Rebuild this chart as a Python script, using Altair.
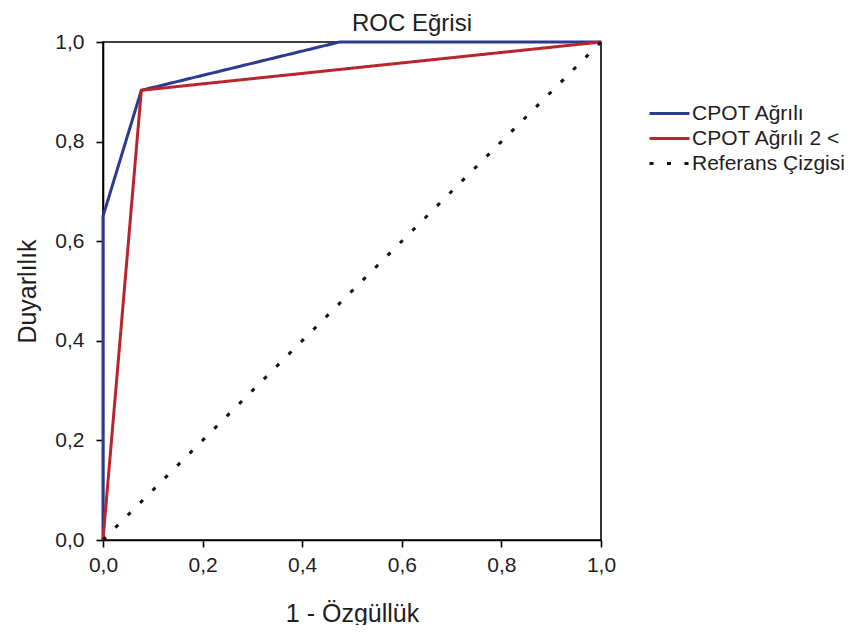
import altair as alt
import pandas as pd

series_names = ["CPOT Ağrılı", "CPOT Ağrılı 2 <", "Referans Çizgisi"]
blue_x = [0.0, 0.0, 0.077, 0.475, 1.0]
blue_y = [0.0, 0.65, 0.903, 1.0, 1.0]
red_x = [0.0, 0.077, 1.0]
red_y = [0.0, 0.903, 1.0]
ref_x = [0.0, 1.0]
ref_y = [0.0, 1.0]
ticks = [0.0, 0.2, 0.4, 0.6, 0.8, 1.0]

rows = []
for name, xs, ys in zip(series_names, [blue_x, red_x, ref_x], [blue_y, red_y, ref_y]):
    for i, (x, y) in enumerate(zip(xs, ys)):
        rows.append({"series": name, "x": x, "y": y, "i": i})
df = pd.DataFrame(rows)

label_expr = "replace(format(datum.value, '.1f'), '.', ',')"
font = "Liberation Sans"
txt = "#1e1e1e"

axis_common = dict(values=ticks, labelExpr=label_expr, grid=False, tickSize=7,
                   tickColor="black", domainColor="black", tickWidth=1.6, domainWidth=1.6,
                   labelFontSize=21, labelColor=txt, titleFontSize=25,
                   titleFontWeight="normal", titleColor=txt, labelFont=font,
                   titleFont=font, labelFlush=False, labelOverlap=False)

legend_common = dict(title=None, orient="none", legendX=555, legendY=60,
                     symbolType="M-2,0H2", symbolSize=400, symbolStrokeWidth=3,
                     labelFontSize=21, labelFont=font, labelColor=txt,
                     rowPadding=3, labelOffset=11)

chart = alt.Chart(df).mark_line(strokeWidth=3, clip=False).encode(
    x=alt.X("x:Q", scale=alt.Scale(domain=[0, 1], nice=False, zero=False),
            axis=alt.Axis(title="1 - Özgüllük", labelPadding=7, titlePadding=26,
                          **axis_common)),
    y=alt.Y("y:Q", scale=alt.Scale(domain=[0, 1], nice=False, zero=False),
            axis=alt.Axis(title="Duyarlılık", labelPadding=12, titlePadding=14,
                          **axis_common)),
    color=alt.Color("series:N", scale=alt.Scale(domain=series_names,
                                                  range=["#2d3a8f", "#b8252d", "#111111"]),
                    legend=alt.Legend(**legend_common)),
    strokeDash=alt.StrokeDash("series:N", scale=alt.Scale(domain=series_names,
                                                            range=[[1, 0], [1, 0], [4, 13.5]]),
                              legend=alt.Legend(**legend_common)),
    order="i:Q",
).properties(
    width=498, height=498,
    title=alt.TitleParams("ROC Eğrisi", fontSize=24, fontWeight="normal", font=font,
                          color=txt, anchor="middle", offset=-5, dx=60),
    autosize=alt.AutoSizeParams(type="none"),
    padding={"left": 95, "top": 34, "right": 248, "bottom": 85},
).configure_view(stroke="black", strokeWidth=1.6)

chart.save("out.html", embed_options={"renderer": "svg", "actions": False})
